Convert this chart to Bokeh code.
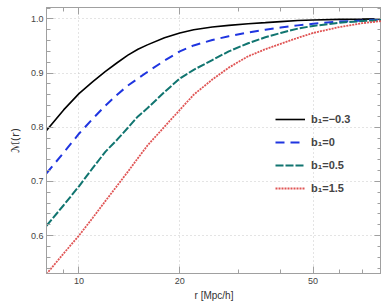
from bokeh.plotting import figure
from bokeh.models import (Range1d, FixedTicker, LogAxis, LinearAxis, Legend, LegendItem,
                          CustomJSTickFormatter, PrintfTickFormatter)
from bokeh.embed import file_html
from bokeh.resources import INLINE

# ---- data ----
r = [8, 9, 10, 11, 12, 13, 14, 15, 16, 18, 20, 22, 25, 28, 32, 36, 40, 45, 50, 60, 70, 80]
m_b1_m03 = [0.794, 0.832, 0.862, 0.884, 0.903, 0.919, 0.933, 0.944, 0.952, 0.965, 0.974,
            0.980, 0.985, 0.988, 0.991, 0.993, 0.995, 0.997, 0.998, 0.999, 0.9995, 1.000]
m_b1_0 = [0.715, 0.753, 0.788, 0.816, 0.840, 0.860, 0.877, 0.890, 0.902, 0.923, 0.940,
          0.951, 0.961, 0.968, 0.975, 0.980, 0.984, 0.988, 0.991, 0.995, 0.997, 0.999]
m_b1_05 = [0.618, 0.656, 0.691, 0.725, 0.755, 0.777, 0.799, 0.820, 0.835, 0.865, 0.890,
           0.906, 0.924, 0.940, 0.955, 0.966, 0.974, 0.982, 0.987, 0.993, 0.996, 0.998]
m_b1_15 = [0.529, 0.567, 0.600, 0.633, 0.664, 0.692, 0.718, 0.743, 0.766, 0.801, 0.832,
           0.860, 0.888, 0.910, 0.931, 0.944, 0.954, 0.965, 0.974, 0.985, 0.992, 0.996]

labels = ["b\u2081=\u22120.3", "b\u2081=0", "b\u2081=0.5", "b\u2081=1.5"]

x_major = [10, 20, 50]
x_minor = [8, 9, 30, 40, 60, 70, 80]
y_major = [0.6, 0.7, 0.8, 0.9, 1.0]
y_minor = [0.54, 0.56, 0.58, 0.62, 0.64, 0.66, 0.68, 0.72, 0.74, 0.76, 0.78,
           0.82, 0.84, 0.86, 0.88, 0.92, 0.94, 0.96, 0.98, 1.02]

FONT = "Liberation Sans"
FRAME = "#a0a0a0"

p = figure(frame_width=335, frame_height=266, x_axis_type="log",
           x_range=Range1d(8, 80), y_range=Range1d(0.53, 1.021),
           output_backend="svg", toolbar_location=None,
           min_border_left=46, min_border_right=0, min_border_top=7, min_border_bottom=0)
p.outline_line_color = FRAME
p.background_fill_color = "white"

xt = FixedTicker(ticks=x_major, minor_ticks=x_minor)
yt = FixedTicker(ticks=y_major, minor_ticks=y_minor)

def style(ax):
    ax.axis_line_color = FRAME
    ax.major_tick_line_color = FRAME
    ax.minor_tick_line_color = FRAME
    ax.major_tick_in = 7
    ax.major_tick_out = 0
    ax.minor_tick_in = 4
    ax.minor_tick_out = 0
    ax.major_label_text_font = FONT
    ax.major_label_text_font_size = "9px"
    ax.major_label_text_color = "#444444"
    ax.axis_label_text_font = FONT
    ax.axis_label_text_font_size = "10px"
    ax.axis_label_text_font_style = "normal"
    ax.axis_label_text_color = "#333333"

xa = p.xaxis[0]
xa.ticker = xt
style(xa)
xa.major_label_standoff = 4
xa.axis_label = "r [Mpc/h]"
xa.axis_label_standoff = 3

ya = p.yaxis[0]
ya.ticker = yt
style(ya)
ya.formatter = PrintfTickFormatter(format="%.1f")
ya.major_label_standoff = 3
ya.axis_label = "\u2133(r)"
ya.axis_label_text_font = "DejaVu Sans"
ya.axis_label_text_font_size = "11px"
ya.axis_label_standoff = 6

blank = CustomJSTickFormatter(code="return ''")
top = LogAxis(ticker=xt, formatter=blank, major_label_standoff=0)
style(top)
top.major_label_text_font_size = "0px"
right = LinearAxis(ticker=yt, formatter=blank, major_label_standoff=0)
style(right)
right.major_label_text_font_size = "0px"
p.add_layout(top, "above")
p.add_layout(right, "right")

p.xgrid.ticker = xt
p.ygrid.ticker = yt
for g in (p.xgrid[0], p.ygrid[0]):
    g.grid_line_color = "#c8c8c8"
    g.grid_line_dash = "1 3"
    g.grid_line_width = 1

r1 = p.line(r, m_b1_m03, line_color="#000000", line_width=1.6)
r2 = p.line(r, m_b1_0, line_color="#1f35e0", line_width=2, line_dash="9 6")
r3 = p.line(r, m_b1_05, line_color="#117570", line_width=2, line_dash="8 2")
r4 = p.line(r, m_b1_15, line_color="#e05555", line_width=1.8, line_dash="2 1")

legend = Legend(items=[LegendItem(label=l, renderers=[rr]) for l, rr in zip(labels, [r1, r2, r3, r4])],
                location=(229, 75), glyph_width=30, glyph_height=20, spacing=3,
                label_standoff=6, padding=0, margin=0, border_line_color=None,
                background_fill_alpha=0, label_text_font=FONT, label_text_font_size="11px",
                label_text_font_style="bold", label_text_color="#444444")
p.add_layout(legend)

open("out.html", "w").write(file_html(p, INLINE))
